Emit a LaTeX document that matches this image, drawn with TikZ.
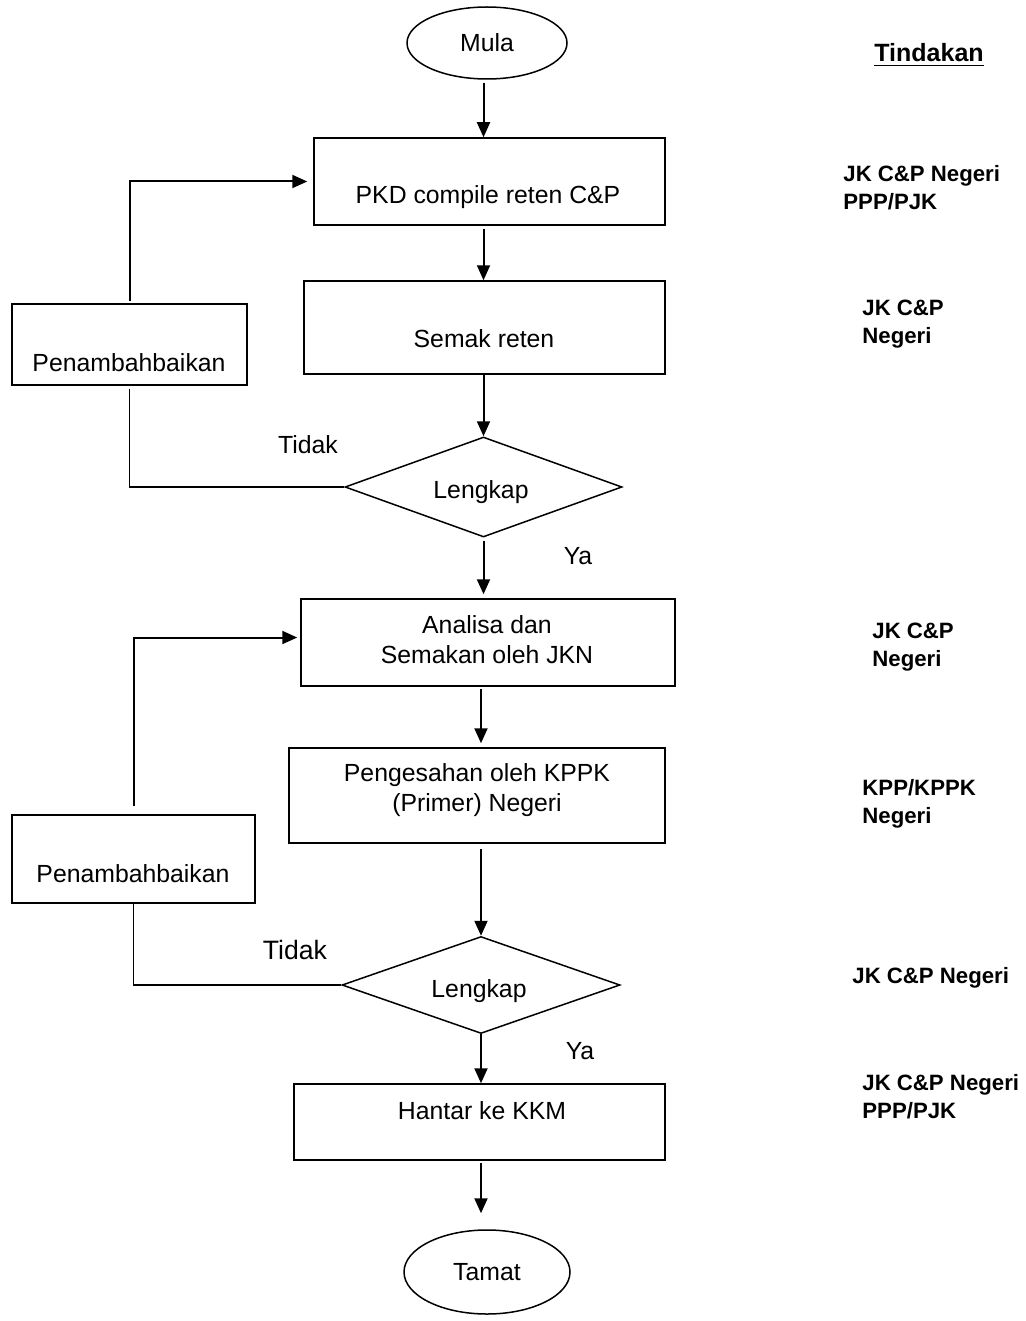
\documentclass[tikz,border=0pt]{standalone}
\usepackage{fontspec}
\setmainfont{Liberation Sans}
\usetikzlibrary{shapes.geometric,arrows.meta}

\begin{document}
\begin{tikzpicture}[x=0.5pt,y=-0.5pt,
  shapeline/.style={draw=black, line width=0.75pt},
  procbox/.style={shapeline, rectangle, inner sep=0pt},
  terminal/.style={shapeline, ellipse, inner sep=0pt, font=\fontsize{12.4}{15}\selectfont},
  decision/.style={shapeline, diamond, inner sep=0pt},
  txt/.style={inner sep=0pt, font=\fontsize{12.4}{15}\selectfont, text height=9pt, text depth=0pt},
  txtm/.style={inner sep=0pt, font=\fontsize{12.4}{15}\selectfont, align=center},
  role/.style={inner sep=0pt, anchor=west, align=left, font=\bfseries\fontsize{11.1}{14}\selectfont},
  flow/.style={line width=1pt, -{Triangle[length=7.5pt,width=6.5pt]}},
  link/.style={line width=0.8pt},
]
\useasboundingbox (0,0) rectangle (1026,1321);

% main column
\node[terminal, minimum width=80pt, minimum height=36pt] (mula) at (487,43) {Mula};
\node[procbox, minimum width=175.5pt, minimum height=43.5pt] (pkd) at (489.5,181.5) {};
\node[txt] (pkdt) at (488,195) {PKD compile reten C\&P};
\node[procbox, minimum width=180.5pt, minimum height=46.5pt] (semak) at (484.5,327.5) {};
\node[txt] (semakt) at (484,338) {Semak reten};
\node[decision, minimum width=138.5pt, minimum height=50pt] (d1) at (483.5,487) {};
\node[txt] (d1t) at (481,489) {Lengkap};
\node[procbox, minimum width=187pt, minimum height=43.5pt] (analisa) at (488,642.5) {};
\node[txtm] (analisat) at (487,640) {Analisa dan\\Semakan oleh JKN};
\node[procbox, minimum width=188pt, minimum height=47.5pt] (peng) at (477,795.5) {};
\node[txtm] (pengt) at (477,790.5) {Pengesahan oleh KPPK\\(Primer) Negeri};
\node[decision, minimum width=139pt, minimum height=48.5pt] (d2) at (481,985) {};
\node[txt] (d2t) at (479,988) {Lengkap};
\node[procbox, minimum width=185.5pt, minimum height=38pt] (hantar) at (479.5,1122) {};
\node[txt] (hantart) at (482,1110) {Hantar ke KKM};
\node[terminal, minimum width=83pt, minimum height=42pt] (tamat) at (487,1272) {Tamat};

% rework boxes
\node[procbox, minimum width=117.5pt, minimum height=40.5pt] (pen1) at (129.5,344.5) {};
\node[txt] (pen1t) at (129,362) {Penambahbaikan};
\node[procbox, minimum width=121.5pt, minimum height=44pt] (pen2) at (133.5,859) {};
\node[txt] (pen2t) at (133,873) {Penambahbaikan};

% branch labels
\node[txt] (no1) at (308,444) {Tidak};
\node[txt] (yes1) at (578,555) {Ya};
\node[txt, font=\fontsize{13.3}{16}\selectfont, text height=9.6pt] (no2) at (295,950) {Tidak};
\node[txt] (yes2) at (580,1050) {Ya};

% responsibility column
\node[inner sep=0pt, anchor=base west, font=\bfseries\fontsize{12.5}{15}\selectfont] (head) at (874,62) {\underline{Tindakan}};
\node[role] (r1) at (843,188) {JK C\&P Negeri\\PPP/PJK};
\node[role] (r2) at (862,324) {JK C\&P\\Negeri};
\node[role] (r3) at (872,647.5) {JK C\&P\\Negeri};
\node[role] (r4) at (862,804) {KPP/KPPK\\Negeri};
\node[role] (r5) at (852,978) {JK C\&P Negeri};
\node[role] (r6) at (862,1096.5) {JK C\&P Negeri\\PPP/PJK};

% main flow
\draw[flow] ([yshift=-1.5pt]mula.south -| d1) -- (pkd.north -| d1);
\draw[flow] ([yshift=-1.5pt]pkd.south -| d1) -- (semak.north -| d1);
\draw[flow] (semak.south -| d1) -- (d1.north);
\draw[flow] ([yshift=-1.5pt]d1.south) -- ([yshift=2pt]analisa.north -| d1);
\draw[flow] ([yshift=-1pt]analisa.south -| d2) -- ([yshift=2pt]peng.north -| d2);
\draw[flow] ([yshift=-2.5pt]peng.south -| d2) -- (d2.north);
\draw[flow] (d2.south) -- (hantar.north -| d2);
\draw[flow, shorten >=8pt] ([yshift=-1pt]hantar.south -| d2) -- (tamat.north -| d2);

% rework loops
\draw[flow, shorten >=3pt] ([yshift=1pt]pen1.north) |- (pkd.west);
\draw[link] ([yshift=-1.5pt]pen1.south) |- (d1.west);
\draw[flow, shorten >=1.5pt] ([yshift=4pt]pen2.north) |- ([yshift=2.5pt]analisa.west);
\draw[link] (pen2.south) |- (d2.west);
\end{tikzpicture}
\end{document}
